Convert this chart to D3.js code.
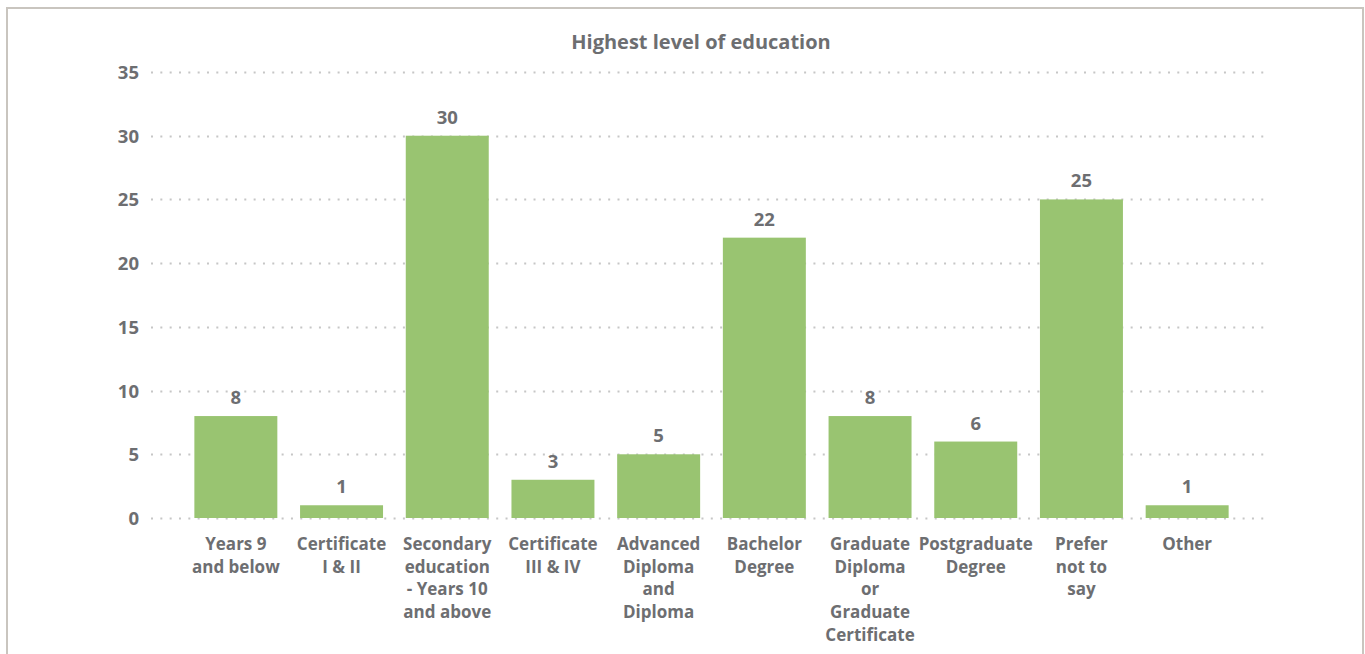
<!DOCTYPE html>
<html>
<head>
<meta charset="utf-8">
<script src="https://cdn.jsdelivr.net/npm/d3@7"></script>
<style>
  html, body { margin: 0; padding: 0; background: #fff; }
  svg { display: block; }
  text { font-family: "Open Sans", "DejaVu Sans", sans-serif; font-weight: 700; fill: #6d6e71; }
</style>
</head>
<body>
<svg id="chart" width="1365" height="654"></svg>
<script>
// Respondents by highest level of education
const categories = [
  "Years 9\nand below",
  "Certificate\nI & II",
  "Secondary\neducation\n- Years 10\nand above",
  "Certificate\nIII & IV",
  "Advanced\nDiploma\nand\nDiploma",
  "Bachelor\nDegree",
  "Graduate\nDiploma\nor\nGraduate\nCertificate",
  "Postgraduate\nDegree",
  "Prefer\nnot to\nsay",
  "Other"
];
const values = [8, 1, 30, 3, 5, 22, 8, 6, 25, 1];
const yTicks = [0, 5, 10, 15, 20, 25, 30, 35];
const title = "Highest level of education";

const svg = d3.select("#chart");
const W = 1365, H = 654;

// card border
svg.append("path")
  .attr("d", `M7,${H} V8 H1363 V${H}`)
  .attr("fill", "none")
  .attr("stroke", "#c9c5bf")
  .attr("stroke-width", 2);

const gridLeft = 151, gridRight = 1268;
const y = d3.scaleLinear().domain([0, 35]).range([518, 72]);

const x = d3.scaleBand()
  .domain(categories)
  .range([183, 1240])
  .paddingInner(0.215)
  .paddingOuter(0.1075);

// title
svg.append("text")
  .attr("x", 701)
  .attr("y", 49)
  .attr("text-anchor", "middle")
  .style("font-size", "20px")
  .text(title);

// dotted gridlines
svg.append("g")
  .selectAll("line")
  .data(yTicks)
  .join("line")
  .attr("x1", gridLeft)
  .attr("x2", gridRight)
  .attr("y1", d => Math.round(y(d)) + 0.5)
  .attr("y2", d => Math.round(y(d)) + 0.5)
  .attr("stroke", "#c6c6c6")
  .attr("stroke-width", 2)
  .attr("stroke-dasharray", "2,7.33");

// y axis labels
const yAxis = d3.axisLeft(y).tickValues(yTicks).tickSize(0).tickPadding(0);
const yg = svg.append("g")
  .attr("transform", `translate(139,0)`)
  .call(yAxis);
yg.select(".domain").remove();
yg.selectAll("text")
  .style("font-size", "18.5px")
  .style("font-family", "\"Open Sans\", sans-serif")
  .style("font-weight", 700)
  .attr("fill", "#6d6e71")
  .attr("dy", "0.35em");

// bars
svg.append("g")
  .selectAll("rect")
  .data(values)
  .join("rect")
  .attr("x", (d, i) => x(categories[i]))
  .attr("width", x.bandwidth())
  .attr("y", d => y(d))
  .attr("height", d => y(0) - y(d))
  .attr("fill", "#99c471");

// value labels
svg.append("g")
  .selectAll("text")
  .data(values)
  .join("text")
  .attr("x", (d, i) => x(categories[i]) + x.bandwidth() / 2)
  .attr("y", d => y(d) - 12)
  .attr("text-anchor", "middle")
  .style("font-size", "18.5px")
  .text(d => d);

// category labels
const cat = svg.append("g")
  .selectAll("text")
  .data(categories)
  .join("text")
  .attr("x", d => x(d) + x.bandwidth() / 2)
  .attr("y", 550)
  .attr("text-anchor", "middle")
  .style("font-size", "17px");
cat.each(function (d) {
  const t = d3.select(this);
  const cx = x(d) + x.bandwidth() / 2;
  d.split("\n").forEach((line, i) => {
    t.append("tspan")
      .attr("x", cx)
      .attr("dy", i === 0 ? 0 : 22.7)
      .text(line);
  });
});
</script>
</body>
</html>
